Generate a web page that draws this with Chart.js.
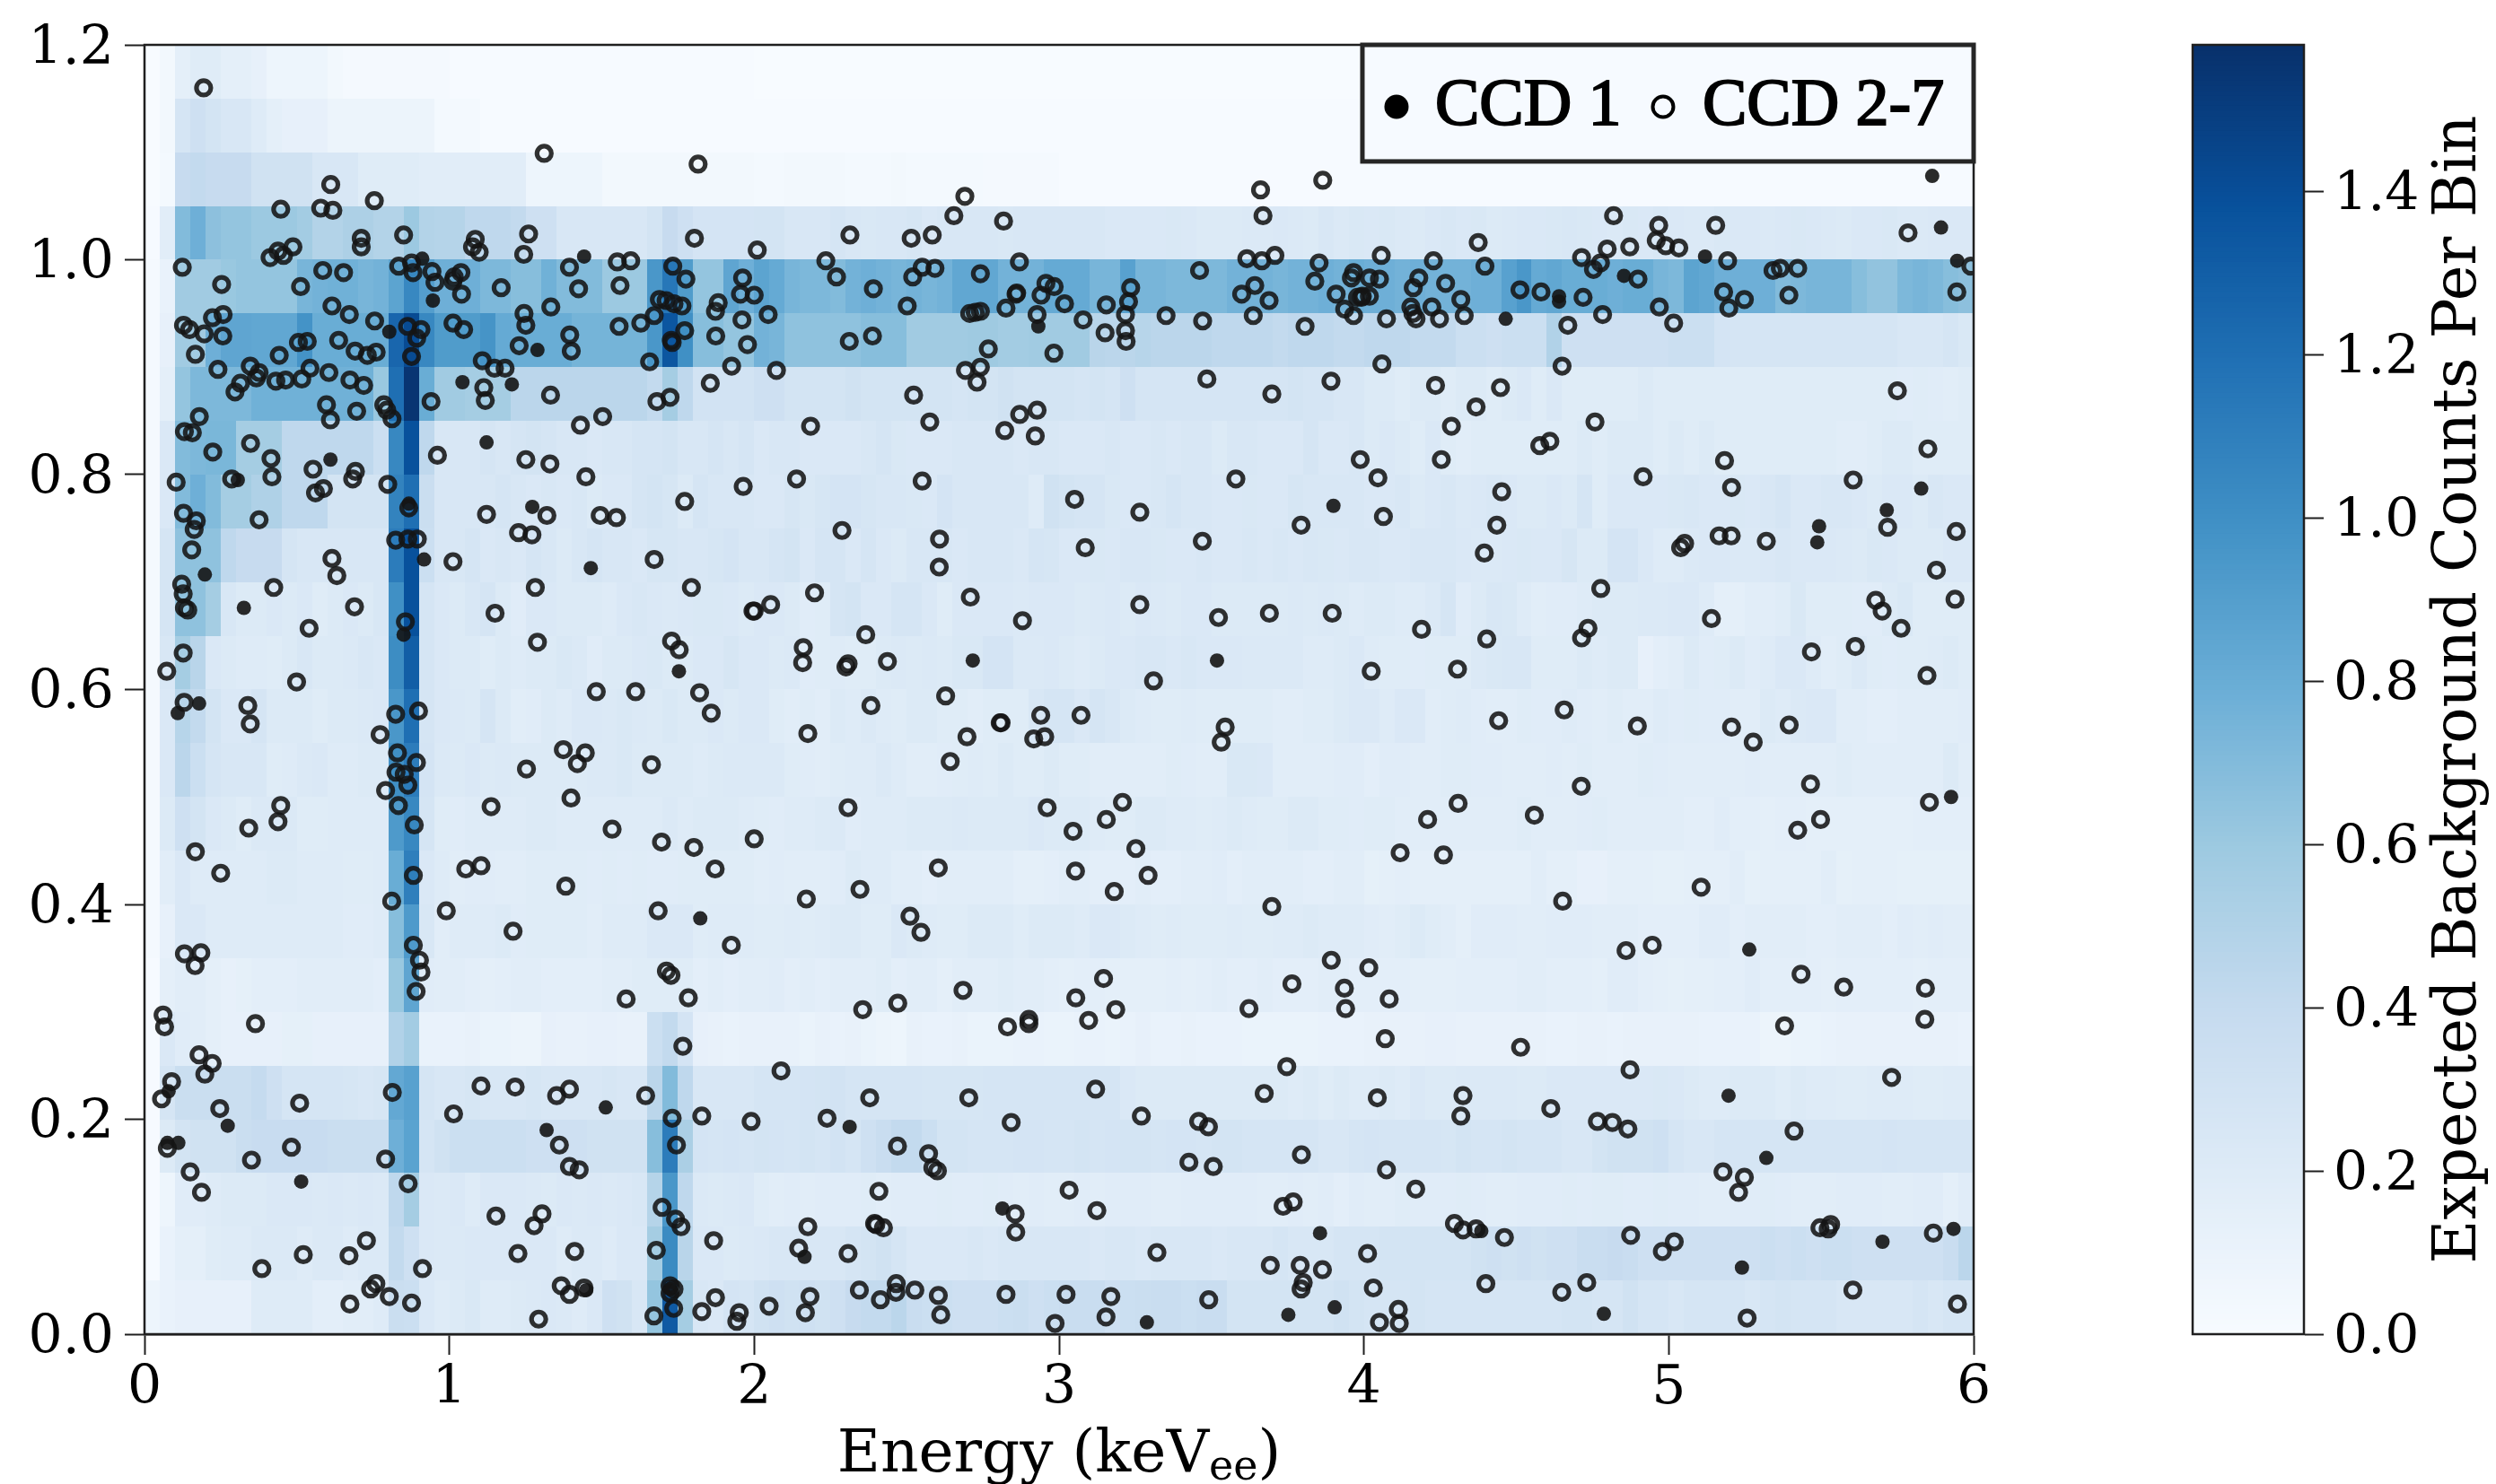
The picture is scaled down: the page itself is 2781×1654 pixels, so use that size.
<!DOCTYPE html>
<html>
<head>
<meta charset="utf-8">
<title>Expected background and events</title>
<script src="https://cdn.jsdelivr.net/npm/chart.js@4/dist/chart.umd.js"></script>
<style>
  html, body { margin: 0; background: #fff; }
  #wrap { position: relative; width: 2781px; height: 1654px; overflow: hidden; }
  canvas { position: absolute; top: 0; }
  #main { left: 0; }
  #cbar { left: 2300px; }
</style>
</head>
<body>
<div id="wrap">
  <canvas id="main" width="2300" height="1654"></canvas>
  <canvas id="cbar" width="481" height="1654"></canvas>
</div>
<script>
const binWidth = 0.05;
const binHeight = 0.05;
const colorMax = 1.58;
const xTicks = [0, 1, 2, 3, 4, 5, 6];
const yTicks = [0, 0.2, 0.4, 0.6, 0.8, 1.0, 1.2];
const colorTicks = [0, 0.2, 0.4, 0.6, 0.8, 1.0, 1.2, 1.4];
const legendLabels = ["CCD 1", "CCD 2-7"];

// expected counts per bin x100, one row per 0.05 in y, 20 bins per keV on each line
const row000 = [5,8,10,10,10,10,10,17,17,17,17,13,13,14,14,17,33,32,20,17,
18,21,17,17,18,19,20,19,17,20,30,28,22,60,133,53,22,20,25,24,
28,30,28,30,28,30,36,38,38,42,34,32,32,30,30,30,32,33,30,32,
34,34,34,30,32,33,34,34,32,34,34,26,26,26,26,26,26,26,28,26,
24,24,24,26,24,24,24,24,24,24,24,24,24,26,26,24,24,28,24,24,
22,24,24,24,24,22,24,26,24,24,24,22,22,22,22,22,24,22,24,24];
const row005 = [1,8,12,12,16,17,17,19,19,19,17,19,19,17,19,19,38,30,20,19,
19,20,20,20,20,20,20,17,19,19,17,20,20,53,103,43,20,20,18,19,
20,22,22,22,22,22,24,26,28,24,20,20,20,20,22,20,22,22,22,22,
22,22,20,22,22,20,22,22,22,22,20,22,22,22,24,22,22,22,24,24,
24,26,26,26,26,26,26,28,30,28,30,28,30,30,34,34,36,34,30,30,
30,30,30,30,30,30,32,30,32,30,32,32,30,30,30,30,30,30,34,42];
const row010 = [1,5,15,15,17,18,18,18,20,20,20,19,20,19,20,19,40,53,20,19,
20,17,20,20,20,19,18,20,19,20,19,20,22,45,95,40,19,18,19,20,
16,14,15,14,15,15,15,16,14,15,15,15,16,15,15,16,15,14,15,14,
14,15,14,15,15,15,14,14,15,15,15,15,15,14,14,15,14,15,13,15,
14,14,16,15,15,15,16,15,14,14,15,15,15,16,15,16,16,15,15,16,
15,15,14,14,15,15,16,15,14,14,14,15,15,15,14,14,15,15,12,15];
const row015 = [1,18,26,28,28,28,33,35,35,35,35,35,33,33,33,33,78,87,24,28,
32,32,32,32,32,30,30,30,30,28,28,28,28,68,112,50,25,24,25,24,
26,25,24,26,24,27,24,30,34,38,38,32,26,26,24,24,24,25,25,24,
24,26,24,25,26,26,24,25,25,24,26,26,24,24,24,24,24,22,22,24,
25,24,24,24,24,23,26,24,24,26,24,24,24,22,22,26,28,28,28,30,
24,22,22,24,24,24,24,24,24,24,24,24,24,24,25,24,24,24,24,24];
const row020 = [1,24,33,33,33,33,33,37,30,24,24,24,24,23,22,23,83,88,24,22,
22,23,22,22,22,23,22,22,22,22,23,22,22,42,70,40,22,22,22,22,
24,24,24,25,26,27,24,24,24,24,24,23,23,23,23,24,24,24,24,24,
24,24,24,24,20,18,18,18,18,18,18,18,18,18,18,17,18,16,18,17,
17,18,17,20,18,18,19,19,19,19,18,18,20,20,20,20,20,20,20,21,
20,18,17,17,18,18,18,16,18,17,17,16,16,17,17,17,16,16,17,17];
const row025 = [1,20,15,14,12,10,10,10,10,11,11,10,10,10,10,10,47,54,8,8,
8,9,7,7,6,6,10,9,9,10,10,9,9,32,38,25,10,9,8,9,
9,9,9,7,9,8,9,7,6,5,9,8,8,9,7,7,7,8,8,7,
7,8,8,7,8,10,8,8,9,8,8,8,7,7,7,7,7,8,8,8,
9,9,9,9,10,10,9,9,9,9,9,9,8,8,9,9,8,9,9,9,
9,9,8,8,8,8,6,6,7,7,8,9,9,9,9,9,9,9,9,8];
const row030 = [1,12,14,14,12,10,11,13,13,13,14,14,14,14,14,13,58,85,15,14,
14,13,12,13,14,14,13,13,13,13,14,14,16,16,16,16,13,14,13,14,
14,15,13,14,13,14,14,14,16,13,14,14,12,14,14,14,16,14,14,13,
12,13,13,12,12,12,12,13,12,13,14,13,13,14,13,13,13,14,14,13,
13,13,13,12,12,12,13,13,13,13,14,14,13,13,13,12,15,15,13,12,
11,12,12,13,13,15,13,13,13,13,12,13,13,13,13,13,12,13,13,13];
const row035 = [2,10,20,20,17,17,17,17,17,17,17,17,17,15,15,17,68,93,22,14,
17,17,17,18,15,16,16,16,16,14,17,17,17,20,20,20,16,17,17,17,
16,16,17,16,17,18,18,16,16,20,18,17,16,16,18,18,18,16,18,18,
18,17,20,20,18,17,16,17,16,16,16,17,16,16,17,17,18,17,17,17,
15,14,16,18,16,14,12,15,15,15,14,14,15,15,15,14,14,14,13,13,
13,13,15,15,13,14,14,14,14,13,13,14,14,14,13,15,14,15,14,14];
const row040 = [2,14,20,17,17,17,17,17,18,18,17,17,17,16,16,17,80,110,20,17,
14,15,15,14,14,16,16,16,16,15,16,15,16,15,15,16,16,16,16,16,
14,15,14,14,14,15,18,17,17,14,14,13,14,14,14,14,14,12,12,13,
14,14,13,13,13,14,13,13,14,14,15,13,14,14,14,14,13,13,14,14,
11,12,13,12,12,12,12,12,12,12,12,14,12,12,10,10,12,12,12,11,
11,12,12,12,14,11,12,12,12,12,14,11,12,12,12,11,11,11,11,11];
const row045 = [2,18,30,26,20,18,16,19,19,19,16,16,17,17,17,17,93,105,24,16,
15,17,17,17,17,18,18,17,17,17,17,17,17,17,19,17,18,18,18,17,
16,15,17,17,18,19,15,17,17,17,18,18,18,19,18,18,18,18,20,18,
18,18,17,16,16,18,18,17,17,16,17,18,17,16,16,18,18,16,16,15,
16,16,14,14,14,14,14,14,14,14,16,14,14,14,15,16,14,14,14,14,
14,13,13,15,13,13,12,13,13,12,12,12,12,12,12,12,13,13,13,13];
const row050 = [2,20,42,32,24,22,22,22,16,17,19,20,17,17,18,18,100,112,25,19,
18,20,18,19,18,18,18,18,18,19,19,21,18,18,18,18,17,18,19,19,
19,19,16,15,14,16,17,17,19,17,14,14,15,16,17,16,18,16,16,18,
16,16,14,14,14,14,14,16,15,14,14,21,21,20,14,14,14,14,15,15,
13,15,15,14,14,16,16,15,15,14,14,14,15,14,16,14,14,14,16,15,
14,14,14,14,14,15,14,14,14,14,14,16,14,14,14,14,14,14,18,14];
const row055 = [2,20,44,38,26,20,20,24,18,18,18,16,18,18,19,20,95,120,24,20,
19,18,24,18,14,15,18,17,20,20,19,21,19,18,21,18,18,20,18,20,
20,16,14,16,14,18,17,19,17,16,18,18,16,16,14,16,16,16,22,24,
24,20,24,22,18,17,16,16,17,16,16,16,16,16,14,14,16,16,18,20,
20,17,20,20,14,16,17,15,14,14,16,15,15,17,15,14,16,14,14,17,
15,16,15,15,14,14,18,17,19,20,20,14,14,13,13,14,14,14,14,15];
const row060 = [2,22,53,43,20,18,17,17,16,18,22,18,18,19,22,20,102,130,24,20,
18,18,16,18,17,18,18,21,19,15,18,18,20,21,18,18,20,20,23,20,
20,18,19,15,16,17,16,16,18,19,18,19,18,21,21,25,25,19,19,20,
18,17,18,20,20,22,22,20,22,20,20,20,19,19,19,19,17,17,18,20,
17,16,16,15,16,16,16,19,21,22,22,16,16,16,18,17,18,18,10,13,
14,18,15,16,18,15,17,20,20,17,14,16,19,16,15,16,16,17,18,16];
const row065 = [2,24,65,65,53,22,18,18,20,18,20,16,18,20,18,22,100,138,24,20,
18,22,24,18,15,20,20,18,18,18,17,20,22,20,19,20,21,21,20,18,
20,20,18,15,16,24,26,20,20,24,24,20,16,20,20,20,20,19,20,20,
20,18,19,20,18,20,19,18,20,20,18,18,18,18,18,19,18,19,18,17,
18,18,17,17,19,24,15,18,22,21,17,14,15,15,17,18,18,18,19,19,
20,20,17,12,12,14,14,16,21,16,16,16,15,15,18,21,16,16,16,16];
const row070 = [2,24,65,65,65,40,36,36,36,24,22,22,22,22,22,22,112,138,32,22,
22,24,20,22,20,24,22,18,22,24,22,22,20,23,23,22,22,23,25,22,
22,24,26,20,24,24,20,24,20,18,22,22,22,20,22,22,22,20,24,23,
20,20,21,20,22,22,21,20,20,22,20,20,22,20,22,20,22,21,20,22,
22,20,20,22,22,22,20,19,19,20,21,20,20,23,18,18,25,25,20,17,
17,19,20,20,19,19,20,22,20,20,20,19,18,21,20,18,18,18,20,20];
const row075 = [2,20,70,78,70,53,53,48,48,40,40,40,26,26,26,26,108,120,33,22,
22,22,22,24,22,20,22,20,22,18,20,20,24,26,23,18,24,22,22,22,
20,20,23,21,23,25,25,23,22,22,21,20,25,22,22,22,22,22,17,28,
26,24,24,21,20,20,22,24,22,22,20,20,21,20,20,23,22,22,22,22,
20,20,22,18,20,22,19,20,22,20,18,18,20,18,24,16,20,20,20,20,
21,22,20,20,21,20,22,24,20,20,22,22,20,18,20,20,18,22,20,20];
const row080 = [2,20,70,72,73,73,53,53,53,40,40,40,40,40,40,32,105,138,40,22,
22,22,24,22,24,26,24,22,22,20,22,22,24,24,26,22,22,24,22,24,
20,22,22,20,20,20,20,22,24,21,20,20,20,22,22,22,22,20,22,22,
20,20,20,22,20,20,22,20,22,22,18,22,22,20,20,20,24,20,20,22,
18,20,18,16,20,16,14,16,16,16,16,16,16,16,18,16,18,18,18,16,
18,16,18,16,16,16,16,16,16,16,16,14,14,16,18,18,16,16,16,16];
const row085 = [2,12,60,72,72,72,72,77,77,77,77,77,77,77,77,58,120,155,80,55,
55,53,53,53,42,42,42,42,42,42,42,42,42,38,53,40,27,27,27,27,
30,30,26,26,26,26,28,26,26,26,26,26,26,24,26,26,28,26,26,26,
26,24,26,24,30,24,24,24,24,24,24,24,24,24,24,26,24,24,22,22,
18,18,16,18,18,16,18,18,16,18,20,16,20,16,16,16,16,16,18,16,
16,16,16,16,16,16,16,16,16,16,16,16,16,16,16,15,16,15,14,16];
const row090 = [2,10,55,55,78,85,85,84,84,84,98,80,80,80,80,80,125,142,105,92,
92,92,97,82,80,80,80,80,75,75,75,75,75,95,135,100,68,68,63,63,
76,74,65,65,65,65,65,68,68,68,55,55,55,55,56,56,54,54,55,55,
55,55,43,42,42,44,42,42,42,42,40,40,40,40,38,40,40,40,38,38,
40,40,40,38,38,38,32,32,30,32,32,32,47,30,30,30,30,30,30,30,
32,32,32,25,24,24,24,24,24,24,24,24,24,24,24,22,22,22,24,21];
const row095 = [2,8,55,55,55,58,60,60,60,60,74,76,77,77,74,76,86,105,90,78,
78,78,72,72,68,68,77,70,70,70,57,57,57,95,115,92,60,60,85,78,
86,82,74,72,72,70,76,78,76,74,76,74,76,84,84,84,76,76,76,82,
82,82,74,74,88,74,74,72,72,72,72,76,76,76,74,76,76,78,76,80,
78,78,76,78,76,76,76,78,78,88,95,82,84,80,80,80,78,80,80,74,
72,86,84,78,78,78,78,70,72,74,74,74,68,64,64,72,74,72,68,66];
const row100 = [1,14,70,78,66,63,63,57,57,57,54,46,46,49,49,46,46,57,46,45,
45,40,40,40,38,30,30,22,22,22,22,22,22,26,36,30,25,25,25,25,
26,26,22,22,22,24,22,21,22,22,23,20,22,22,22,22,21,22,22,22,
22,22,22,20,20,20,20,21,20,18,18,18,19,19,20,19,18,22,19,21,
20,21,19,18,20,22,20,21,18,19,20,20,21,22,21,20,19,21,20,22,
20,19,19,21,20,20,19,20,21,20,19,18,20,20,21,19,19,20,20,20];
const row105 = [0,3,36,38,36,36,36,28,28,28,28,22,22,22,16,16,16,16,14,14,
14,14,14,14,14,5,5,5,5,5,4,4,4,4,4,4,4,4,4,4,
3,3,4,4,4,4,3,3,3,4,3,3,3,3,3,2,2,2,2,2,
1,1,1,1,1,1,1,1,1,1,1,1,1,1,1,1,1,1,1,1,
1,1,1,1,1,1,1,1,1,1,1,1,1,1,1,1,1,1,1,1,
1,1,1,1,1,1,1,1,1,1,1,1,1,1,1,1,1,1,1,1];
const row110 = [0,4,24,30,26,22,22,17,12,10,10,10,6,6,6,6,6,6,6,3,
3,3,1,1,1,1,1,1,1,1,1,1,1,1,1,1,1,1,1,1,
1,1,1,1,1,1,1,1,1,1,1,1,1,1,1,1,1,1,1,1,
1,1,1,1,1,1,1,1,1,1,1,1,1,1,1,1,1,1,1,1,
1,1,1,1,1,1,1,1,1,1,1,1,1,1,1,1,1,1,1,1,
1,1,1,1,1,1,1,1,1,1,1,1,1,1,1,1,1,1,1,1];
const row115 = [0,4,12,16,16,12,12,10,5,5,5,5,4,2,2,2,2,2,2,2,
1,1,1,1,1,1,1,1,1,1,1,1,1,1,1,1,1,1,1,1,
0,0,0,0,0,0,0,0,0,0,0,0,0,0,0,0,0,0,0,0,
0,0,0,0,0,0,0,0,0,0,0,0,0,0,0,0,0,0,0,0,
0,0,0,0,0,0,0,0,0,0,0,0,0,0,0,0,0,0,0,0,
0,0,0,0,0,0,0,0,0,0,0,0,0,0,0,0,0,0,0,0];
const heatRows = [row000,row005,row010,row015,row020,row025,row030,row035,row040,row045,row050,row055,
  row060,row065,row070,row075,row080,row085,row090,row095,row100,row105,row110,row115];

const ccd1Points = [[.911,1.001],[1.442,1.003],[.946,.962],[.803,.933],[1.289,.916],[1.043,.886],[1.205,.884],[1.122,.83],[.61,.814],
[.306,.795],[1.272,.77],[.198,.707],[.917,.721],[1.464,.713],[.326,.676],[.85,.651],[1.753,.617],[.179,.587],[.109,.578],[.867,.773],
[1.823,.387],[.273,.194],[1.319,.19],[1.513,.211],[.075,.178],[.111,.178],[.079,.226],[.514,.142],[1.449,.041],[1.724,.042],
[2.932,.938],[2.717,.627],[3.518,.627],[3.9,.771],[2.313,.193],[2.814,.117],[2.165,.072],[3.856,.094],[3.752,.018],[3.904,.025],[3.288,.011],
[5.864,1.078],[5.893,1.03],[5.119,1.003],[5.946,.999],[4.853,.985],[4.465,.945],[4.64,.966],[4.64,.961],
[5.828,.787],[5.715,.767],[5.493,.752],[5.487,.737],[5.926,.5],[5.264,.358],[5.196,.222],[5.32,.164],[5.24,.062],[4.385,.096],[5.701,.086],[5.934,.098],[4.787,.019]];

const ccd27Points = [[.194,1.16],[1.311,1.099],[1.816,1.089],[.611,1.07],[.754,1.055],[.447,1.047],[.578,1.048],[.618,1.046],[.711,1.02],[.711,1.012],
[.85,1.023],[1.085,1.019],[1.076,1.012],[1.098,1.007],[1.26,1.024],[1.244,1.005],[1.804,1.02],[.487,1.012],[.438,1.008],[.456,1.004],[.412,1.002],
[.124,.993],[.253,.977],[.585,.99],[.653,.988],[.512,.975],[.834,.994],[.876,.997],[.881,.988],[.943,.989],[.953,.979],[1.038,.988],[1.016,.984],[1.012,.98],[1.04,.968],
[1.17,.974],[1.394,.993],[1.424,.973],[1.551,.998],[1.595,.999],[1.56,.976],[1.733,.994],[1.776,.982],[1.962,.983],[1.955,.968],[2,.967],[1.689,.963],[1.711,.962],[1.737,.959],[1.763,.957],
[1.882,.96],[1.873,.952],[1.672,.948],[1.628,.941],[1.557,.938],[1.772,.934],[1.728,.925],[1.731,.923],[1.874,.929],[1.96,.944],[1.978,.921],[1.657,.905],[1.926,.901],[1.856,.885],[1.724,.872],[1.681,.868],[1.503,.854],[1.43,.846],
[.615,.957],[.672,.949],[.755,.943],[.637,.925],[.691,.915],[.731,.911],[.76,.914],[.863,.938],[.907,.935],[.893,.927],[.876,.91],[1.012,.941],[1.047,.935],[1.245,.95],[1.251,.939],[1.333,.956],[1.229,.92],[1.395,.93],[1.4,.915],
[1.108,.906],[1.148,.899],[1.183,.899],[1.113,.881],[1.118,.869],[1.332,.874],[.94,.868],[.128,.939],[.148,.935],[.196,.931],[.223,.946],[.258,.949],[.257,.929],[.167,.912],[.241,.898],[.347,.901],[.376,.895],[.367,.89],
[.431,.887],[.463,.888],[.516,.889],[.543,.899],[.605,.895],[.674,.888],[.719,.883],[.505,.923],[.534,.924],[.442,.911],[.297,.877],[.315,.885],[.597,.865],[.61,.851],[.696,.859],[.785,.865],[.795,.86],[.812,.852],
[.18,.854],[.131,.84],[.157,.839],[.224,.821],[.348,.829],[.415,.815],[.553,.805],[.692,.803],[.961,.818],[1.251,.814],[1.33,.81],
[.104,.793],[.286,.796],[.418,.798],[.683,.796],[.798,.791],[.561,.783],[.587,.787],[1.448,.798],[1.964,.789],[.867,.769],[.128,.764],[.17,.757],[.163,.749],[.155,.73],[.376,.758],[1.122,.763],[1.32,.762],[1.495,.762],[1.548,.76],[1.772,.775],
[1.227,.746],[1.271,.744],[.824,.739],[.864,.74],[.895,.74],[1.012,.719],[.615,.722],[.631,.706],[1.672,.721],[.424,.695],[.122,.698],[.127,.689],[.131,.676],[.142,.674],[1.282,.695],[1.794,.695],[.689,.677],[1.15,.671],[1.996,.673],
[.54,.657],[.856,.663],[.127,.634],[1.289,.644],[1.729,.645],[1.754,.637],[.073,.617],[.499,.607],[.13,.588],[.339,.585],[.347,.568],[.824,.577],[.899,.58],[1.482,.598],[1.611,.598],[1.821,.597],[1.859,.578],[.773,.558],[.83,.541],[.892,.532],[.825,.523],[.852,.521],[.864,.511],[.791,.506],
[1.374,.544],[1.446,.541],[1.42,.531],[1.253,.526],[1.663,.53],[1.399,.499],[.833,.492],[.447,.492],[.438,.477],[.342,.471],[1.137,.491],[.885,.474],[1.534,.47],[1.696,.458],[1.802,.453],[2,.461],[1.872,.433],[.167,.449],[.25,.429],[1.054,.433],[1.104,.436],[.882,.427],[1.382,.417],[.811,.403],
[.99,.394],[1.685,.394],[1.209,.375],[.131,.354],[.185,.355],[.166,.343],[1.925,.362],[.882,.362],[.902,.348],[.907,.337],[.891,.319],[1.712,.338],[1.727,.334],[1.58,.312],[1.784,.313],[.061,.297],[.066,.286],[.364,.289],[1.766,.268],[.179,.26],[.222,.252],[.198,.242],[.089,.235],[.056,.219],
[.247,.21],[.509,.215],[.813,.225],[1.104,.231],[1.216,.23],[1.352,.222],[1.394,.228],[1.644,.222],[1.014,.205],[1.731,.201],[1.828,.203],[1.99,.198],[.482,.174],[.351,.162],[.075,.173],[.15,.151],[.187,.132],[.791,.163],[.865,.14],[1.361,.176],[1.394,.156],[1.426,.153],[1.745,.176],
[1.153,.11],[1.304,.112],[1.278,.101],[1.698,.118],[1.742,.107],[1.76,.1],[1.867,.087],[1.679,.078],[.728,.087],[.671,.073],[.521,.074],[.385,.061],[1.225,.075],[1.411,.077],[.912,.061],[.759,.047],[.742,.042],[.803,.035],[.674,.028],[.876,.029],[1.367,.045],[1.394,.037],[1.442,.043],
[1.724,.045],[1.724,.038],[1.737,.042],[1.736,.024],[1.671,.017],[1.293,.014],[1.828,.021],[1.873,.034],[1.951,.02],[1.943,.012],
[2.01,1.009],[2.314,1.023],[2.235,.999],[2.27,.984],[2.391,.973],[2.515,1.02],[2.584,1.023],[2.52,.984],[2.551,.993],[2.593,.992],[2.502,.957],[2.691,1.059],[2.655,1.041],[2.818,1.036],[2.742,.987],[2.87,.998],[2.861,.969],[2.859,.968],[2.707,.95],[2.725,.951],[2.742,.952],[2.826,.955],
[2.941,.967],[2.957,.978],[2.984,.975],[3.018,.959],[2.928,.949],[3.079,.944],[3.155,.958],[3.235,.974],[3.228,.961],[3.218,.949],[3.218,.934],[3.22,.924],[3.151,.932],[3.351,.948],[3.461,.99],[3.471,.943],[3.661,1.065],[3.669,1.041],[3.865,1.074],[3.616,1.001],[3.665,.999],[3.708,1.004],
[3.853,.997],[3.839,.98],[3.642,.976],[3.599,.968],[3.689,.962],[3.637,.948],[3.807,.938],[3.909,.968],[3.937,.954],[3.966,.988],[3.959,.983],[3.966,.948],[3.979,.965],[3.995,.966],[2.046,.949],[2.073,.897],[2.312,.924],[2.388,.929],[2.768,.917],[2.742,.9],[2.693,.897],[2.731,.886],[2.983,.913],
[3.485,.889],[3.892,.887],[3.698,.875],[2.523,.874],[2.576,.849],[2.185,.845],[2.822,.841],[2.871,.856],[2.928,.86],[2.922,.836],[3.988,.814],
[2.139,.796],[2.551,.794],[3.051,.777],[3.265,.765],[3.58,.796],[3.794,.753],[2.288,.748],[2.608,.74],[2.607,.714],[3.086,.732],[3.47,.738],[2.198,.69],[2.054,.679],[2,.673],[2.709,.686],[2.88,.664],[3.265,.679],[3.523,.667],[3.69,.671],[3.896,.671],[2.366,.651],[2.161,.639],[2.159,.625],[2.308,.624],[2.301,.621],[2.437,.626],[3.31,.608],
[2.628,.594],[2.383,.585],[2.176,.559],[2.81,.569],[2.807,.569],[2.94,.576],[3.072,.576],[2.698,.556],[2.917,.554],[2.953,.556],[3.545,.565],[3.532,.551],[2.643,.533],[2.308,.49],[2.961,.49],[3.208,.495],[3.155,.479],[3.046,.468],[3.252,.452],[2.604,.434],[3.054,.431],[3.292,.427],[3.181,.412],[2.347,.414],[2.171,.405],[3.698,.398],
[2.511,.389],[2.547,.374],[3.893,.348],[3.146,.331],[2.685,.32],[3.764,.326],[3.936,.322],[3.94,.303],[3.055,.313],[3.186,.302],[2.356,.302],[2.471,.308],[2.831,.286],[2.901,.293],[2.901,.289],[3.097,.292],[3.623,.303],[3.747,.249],[2.088,.245],[2.379,.22],[2.704,.22],[3.12,.228],[3.673,.224],[2.239,.201],[2.843,.197],[3.27,.203],[3.458,.198],[3.49,.193],
[2.47,.175],[2.572,.168],[2.586,.155],[2.601,.152],[3.426,.16],[3.506,.156],[3.795,.167],[2.409,.133],[3.033,.134],[3.124,.115],[2.856,.112],[2.858,.095],[2.176,.1],[2.395,.103],[2.399,.102],[2.424,.099],[2.146,.08],[2.308,.075],[3.321,.076],[3.735,.119],[3.768,.123],[3.693,.064],[3.791,.064],[3.864,.06],[3.801,.048],[3.794,.042],
[2.049,.026],[2.168,.02],[2.183,.035],[2.345,.041],[2.414,.032],[2.466,.047],[2.465,.039],[2.527,.041],[2.604,.036],[2.612,.018],[2.826,.037],[3.023,.037],[3.17,.035],[3.154,.016],[2.987,.01],[3.491,.032],
[4.057,1.004],[4.375,1.016],[4.228,.999],[4.397,.994],[4.051,.982],[4.018,.983],[4.18,.983],[4.162,.974],[4.268,.978],[4.318,.963],[3.992,.965],[4.018,.966],[4.223,.956],[4.154,.956],[4.161,.95],[4.171,.945],[4.074,.945],[4.248,.945],[4.329,.948],[4.512,.972],[4.581,.97],[4.719,.965],[4.669,.939],[4.783,.949],
[4.819,1.041],[4.967,1.032],[4.959,1.018],[4.99,1.013],[5.033,1.011],[4.872,1.012],[4.798,1.01],[4.714,1.002],[4.776,.997],[4.753,.991],[4.899,.982],[5.154,1.032],[5.193,.999],[5.342,.99],[5.366,.992],[5.423,.992],[5.394,.967],[5.18,.97],[5.248,.963],[5.197,.955],[4.969,.956],[5.016,.941],[5.785,1.025],[5.945,.97],[5.991,.994],
[4.059,.903],[4.65,.901],[4.235,.883],[4.448,.881],[4.368,.863],[4.287,.845],[5.75,.878],[4.758,.849],[4.61,.831],[4.577,.827],[4.254,.814],[5.183,.813],[5.85,.824],
[4.046,.797],[4.916,.798],[4.452,.784],[5.206,.788],[5.605,.795],[4.064,.761],[4.436,.753],[4.395,.727],[5.039,.732],[5.052,.736],[5.165,.743],[5.205,.743],[5.32,.738],[5.718,.751],[5.943,.747],[5.878,.711],[4.777,.694],[5.679,.683],[5.7,.673],[5.939,.684],[5.762,.657],[5.14,.666],[4.189,.656],[4.403,.647],[4.735,.657],[4.714,.648],[5.612,.64],[5.468,.635],
[4.024,.617],[4.307,.619],[5.847,.613],[4.442,.571],[4.657,.581],[4.897,.566],[5.206,.565],[5.277,.551],[5.395,.567],[4.713,.51],[5.465,.512],[4.309,.494],[4.209,.479],[4.559,.483],[5.855,.495],[5.498,.479],[5.423,.469],[4.119,.448],[4.261,.446],[5.106,.416],[4.652,.403],
[4.86,.357],[4.946,.362],[5.434,.335],[5.574,.323],[5.842,.322],[5.84,.293],[4.016,.341],[4.083,.312],[4.07,.275],[5.38,.287],[4.514,.267],[4.873,.246],[5.731,.239],[4.044,.22],[4.325,.222],[4.318,.203],[4.613,.21],[4.766,.198],[4.815,.197],[4.866,.191],[5.411,.189],[4.074,.153],[4.17,.135],[5.178,.151],[5.248,.146],[5.229,.132],
[4.297,.103],[4.325,.097],[4.368,.098],[4.461,.09],[4.875,.092],[5.018,.086],[4.979,.077],[5.496,.099],[5.531,.102],[5.523,.098],[5.868,.094],[4.012,.075],[4.031,.043],[4.4,.047],[4.731,.048],[4.649,.039],[5.604,.041],[5.947,.028],[4.113,.023],[4.051,.011],[4.116,.01],[5.257,.015]];

// matplotlib "Blues"
const blues = [[247,251,255],[222,235,247],[198,219,239],[158,202,225],[107,174,214],[66,146,198],[33,113,181],[8,81,156],[8,48,107]];
function bluesColor(value) {
  const t = Math.min(Math.max(value / colorMax, 0), 1) * (blues.length - 1);
  const i = Math.min(Math.floor(t), blues.length - 2);
  const f = t - i;
  const c = blues[i].map((v, k) => Math.round(v + (blues[i + 1][k] - v) * f));
  return `rgb(${c[0]},${c[1]},${c[2]})`;
}

const serif = "'DejaVu Serif', serif";
const inkColor = "#1f1f1f";

const heatmapPlugin = {
  id: "heatmap",
  beforeDatasetsDraw(chart) {
    const { ctx, scales: { x, y } } = chart;
    ctx.save();
    heatRows.forEach((row, r) => {
      const top = Math.round(y.getPixelForValue((r + 1) * binHeight));
      const bottom = Math.round(y.getPixelForValue(r * binHeight));
      row.forEach((count, c) => {
        const left = Math.round(x.getPixelForValue(c * binWidth));
        const right = Math.round(x.getPixelForValue((c + 1) * binWidth));
        // my read of the pale background came out a bit low, lift it
        const lifted = count >= 5 && count <= 60 ? count + 3 : count;
        ctx.fillStyle = bluesColor(lifted / 100);
        ctx.fillRect(left, top, right - left, bottom - top);
      });
    });
    ctx.restore();
  }
};

const framePlugin = {
  id: "frame",
  afterDatasetsDraw(chart) {
    const { ctx, chartArea: a, scales: { x, y } } = chart;
    ctx.save();
    ctx.strokeStyle = inkColor;
    ctx.lineWidth = 2.5;
    ctx.strokeRect(a.left, a.top, a.right - a.left, a.bottom - a.top);

    // legend box, sits on the top right corner of the axes
    const boxLeft = x.getPixelForValue(3.995);
    const boxBottom = y.getPixelForValue(1.0915);
    ctx.fillStyle = "#f6faff";
    ctx.fillRect(boxLeft, a.top, a.right - boxLeft, boxBottom - a.top);
    ctx.strokeStyle = "#262626";
    ctx.lineWidth = 5;
    ctx.strokeRect(boxLeft, a.top, a.right - boxLeft, boxBottom - a.top);

    const cy = a.top + 69;
    ctx.fillStyle = "#000";
    ctx.beginPath();
    ctx.arc(boxLeft + 38, cy, 13.5, 0, Math.PI * 2);
    ctx.fill();
    ctx.strokeStyle = "#000";
    ctx.lineWidth = 4;
    ctx.beginPath();
    ctx.arc(boxLeft + 335, cy, 11.5, 0, Math.PI * 2);
    ctx.stroke();

    ctx.font = "74px 'Liberation Serif', serif";
    ctx.textBaseline = "alphabetic";
    ctx.textAlign = "left";
    ctx.lineWidth = 2;
    [[legendLabels[0], boxLeft + 81], [legendLabels[1], boxLeft + 379]].forEach(([label, tx]) => {
      ctx.fillText(label, tx, a.top + 89);
      ctx.strokeText(label, tx, a.top + 89);
    });
    ctx.restore();
  },
  afterDraw(chart) {
    // x title has a subscript so it is written by hand
    const { ctx, chartArea: a } = chart;
    ctx.save();
    ctx.fillStyle = "#000";
    ctx.textBaseline = "alphabetic";
    ctx.textAlign = "left";
    const big = `66px ${serif}`;
    const small = `46px ${serif}`;
    ctx.font = big;
    const w1 = ctx.measureText("Energy (keV").width;
    const w3 = ctx.measureText(")").width;
    ctx.font = small;
    const w2 = ctx.measureText("ee").width;
    let tx = (a.left + a.right) / 2 - (w1 + w2 + w3) / 2;
    ctx.font = big;
    ctx.fillText("Energy (keV", tx, 1640);
    tx += w1;
    ctx.font = small;
    ctx.fillText("ee", tx, 1649);
    tx += w2;
    ctx.font = big;
    ctx.fillText(")", tx, 1640);
    ctx.restore();
  }
};

new Chart(document.getElementById("main"), {
  type: "scatter",
  data: {
    datasets: [
      {
        label: legendLabels[1],
        data: ccd27Points.map(p => ({ x: p[0], y: p[1] })),
        pointRadius: 8,
        pointBorderWidth: 5.2,
        pointBorderColor: "rgba(20,20,20,0.88)",
        pointBackgroundColor: "rgba(0,0,0,0)"
      },
      {
        label: legendLabels[0],
        data: ccd1Points.map(p => ({ x: p[0], y: p[1] })),
        pointRadius: 8,
        pointBorderWidth: 0,
        pointBackgroundColor: "rgba(20,20,20,0.9)"
      }
    ]
  },
  options: {
    responsive: false,
    animation: false,
    devicePixelRatio: 1,
    layout: { padding: { top: 50, right: 101, left: 0, bottom: 0 } },
    plugins: { legend: { display: false }, tooltip: { enabled: false } },
    scales: {
      x: {
        type: "linear",
        min: 0,
        max: 6,
        afterFit(scale) { scale.height = 167; },
        afterBuildTicks(scale) { scale.ticks = xTicks.map(v => ({ value: v })); },
        border: { color: inkColor, width: 2.5 },
        grid: { drawOnChartArea: false, tickLength: 23, tickWidth: 2, tickColor: inkColor },
        ticks: { color: "#000", font: { family: serif, size: 60 }, padding: 2, maxRotation: 0, autoSkip: false,
          callback: v => String(v) }
      },
      y: {
        type: "linear",
        min: 0,
        max: 1.2,
        afterFit(scale) { scale.width = 161; },
        afterBuildTicks(scale) { scale.ticks = yTicks.map(v => ({ value: v })); },
        border: { color: inkColor, width: 2.5 },
        grid: { drawOnChartArea: false, tickLength: 22, tickWidth: 2, tickColor: inkColor },
        ticks: { color: "#000", font: { family: serif, size: 60 }, padding: 12, labelOffset: 5, autoSkip: false,
          callback: v => v.toFixed(1) }
      }
    }
  },
  plugins: [heatmapPlugin, framePlugin]
});

const colorbarPlugin = {
  id: "colorbar",
  beforeDatasetsDraw(chart) {
    const { ctx, chartArea: a, scales: { y } } = chart;
    ctx.save();
    for (let i = 0; i < 256; i++) {
      const v0 = colorMax * i / 256;
      const v1 = colorMax * (i + 1) / 256;
      const top = y.getPixelForValue(v1);
      const bottom = y.getPixelForValue(v0);
      ctx.fillStyle = bluesColor((v0 + v1) / 2);
      ctx.fillRect(a.left, top - 0.5, a.right - a.left, bottom - top + 1);
    }
    ctx.restore();
  },
  afterDatasetsDraw(chart) {
    const { ctx, chartArea: a } = chart;
    ctx.save();
    ctx.strokeStyle = inkColor;
    ctx.lineWidth = 2.5;
    ctx.strokeRect(a.left, a.top, a.right - a.left, a.bottom - a.top);
    ctx.restore();
  },
  afterDraw(chart) {
    const { ctx, chartArea: a } = chart;
    ctx.save();
    ctx.translate(458, (a.top + a.bottom) / 2);
    ctx.rotate(-Math.PI / 2);
    ctx.fillStyle = "#000";
    ctx.font = `67px ${serif}`;
    ctx.textAlign = "center";
    ctx.textBaseline = "alphabetic";
    ctx.fillText("Expected Background Counts Per Bin", 0, 0);
    ctx.restore();
  }
};

new Chart(document.getElementById("cbar"), {
  type: "scatter",
  data: { datasets: [{ data: [] }] },
  options: {
    responsive: false,
    animation: false,
    devicePixelRatio: 1,
    layout: { padding: { top: 50, left: 143, right: 0, bottom: 0 } },
    plugins: { legend: { display: false }, tooltip: { enabled: false } },
    scales: {
      x: {
        type: "linear",
        display: false,
        min: 0,
        max: 1,
        afterFit(scale) { scale.height = 167; }
      },
      y: {
        type: "linear",
        position: "right",
        min: 0,
        max: colorMax,
        afterFit(scale) { scale.width = 214; },
        afterBuildTicks(scale) { scale.ticks = colorTicks.map(v => ({ value: v })); },
        border: { color: inkColor, width: 2 },
        grid: { drawOnChartArea: false, tickLength: 22, tickWidth: 2, tickColor: inkColor },
        ticks: { color: "#000", font: { family: serif, size: 60 }, padding: 11, labelOffset: 5, autoSkip: false,
          callback: v => v.toFixed(1) }
      }
    }
  },
  plugins: [colorbarPlugin]
});
</script>
</body>
</html>
